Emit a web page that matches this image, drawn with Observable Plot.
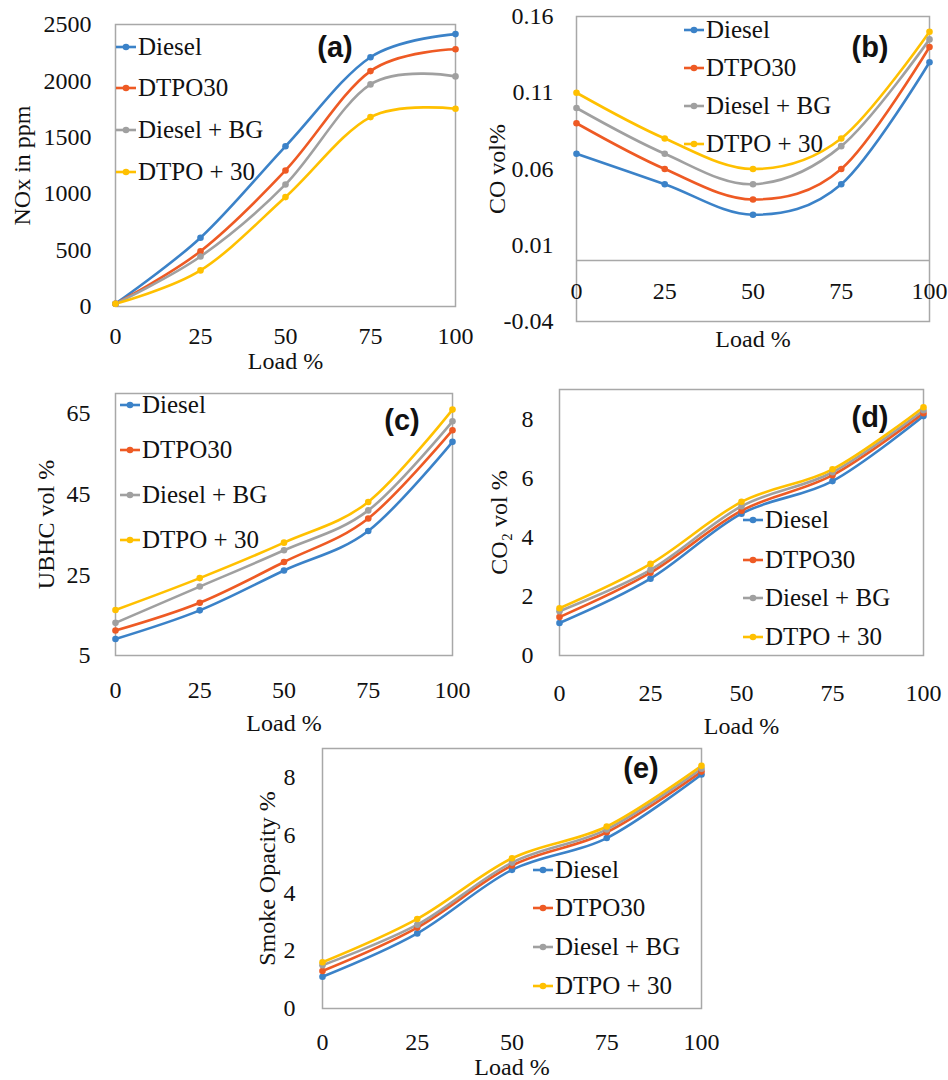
<!DOCTYPE html>
<html><head><meta charset="utf-8">
<script src="https://cdn.jsdelivr.net/npm/d3@7"></script>
<script src="https://cdn.jsdelivr.net/npm/@observablehq/plot@0.6"></script>
<style>
body{margin:0;background:#fff}
#wrap{position:relative;width:948px;height:1080px;overflow:hidden;font-family:"Liberation Serif","Times New Roman",serif;color:#111}
.panel{position:absolute}
.legend-row{position:absolute;display:flex;align-items:center;white-space:nowrap;font-family:"Liberation Serif","Times New Roman",serif;font-size:25px;line-height:28px;height:28px;color:#111}
.legend-row svg{margin-right:2px}
.tag{position:absolute;font-family:"Liberation Sans",Arial,sans-serif;font-weight:bold;font-size:29px;transform:translate(-50%,-50%);white-space:nowrap}
</style></head><body><div id="wrap"></div>
<script>
// ---- data ----
const loads = [0, 25, 50, 75, 100];
const seriesNames = ["Diesel", "DTPO30", "Diesel + BG", "DTPO + 30"];
const seriesColors = ["#3B82C8", "#EE5A24", "#A0A0A0", "#FFC000"];

const noxDiesel = [25, 610, 1420, 2210, 2415];
const noxDTPO30 = [25, 490, 1206, 2087, 2280];
const noxDieselBG = [25, 443, 1082, 1969, 2040];
const noxDTPOplus30 = [25, 320, 970, 1679, 1753];
const noxTicks = [0, 500, 1000, 1500, 2000, 2500];

const coDiesel = [0.07, 0.05, 0.03, 0.05, 0.13];
const coDTPO30 = [0.09, 0.06, 0.04, 0.06, 0.14];
const coDieselBG = [0.10, 0.07, 0.05, 0.075, 0.145];
const coDTPOplus30 = [0.11, 0.08, 0.06, 0.08, 0.15];
const coTicks = [-0.04, 0.01, 0.06, 0.11, 0.16];

const ubhcDiesel = [9.1, 16.2, 26.1, 35.9, 58.0];
const ubhcDTPO30 = [11.2, 18.1, 28.2, 39.0, 60.9];
const ubhcDieselBG = [13.1, 22.1, 31.1, 41.0, 63.1];
const ubhcDTPOplus30 = [16.3, 24.2, 33.0, 43.1, 66.0];
const ubhcTicks = [5, 25, 45, 65];

const co2Diesel = [1.1, 2.6, 4.8, 5.9, 8.1];
const co2DTPO30 = [1.3, 2.8, 4.9, 6.1, 8.2];
const co2DieselBG = [1.5, 2.9, 5.05, 6.2, 8.3];
const co2DTPOplus30 = [1.6, 3.1, 5.2, 6.3, 8.4];
const co2Ticks = [0, 2, 4, 6, 8];

const smokeDiesel = [1.1, 2.6, 4.8, 5.9, 8.1];
const smokeDTPO30 = [1.3, 2.8, 4.95, 6.1, 8.2];
const smokeDieselBG = [1.5, 2.9, 5.05, 6.2, 8.3];
const smokeDTPOplus30 = [1.6, 3.1, 5.2, 6.3, 8.4];
const smokeTicks = [0, 2, 4, 6, 8];

function tidy(arrays) {
  const rows = [];
  arrays.forEach((vals, i) => vals.forEach((v, j) => rows.push({series: seriesNames[i], load: loads[j], value: v})));
  return rows;
}

// ---- layout ----
const wrap = document.getElementById("wrap");
const FONT = '"Liberation Serif","Times New Roman",serif';

function panel(cfg) {
  const [fx0, fy0, fx1, fy1] = cfg.frame;
  const ml = cfg.ml, mr = cfg.mr, mt = 20, mb = cfg.mb ?? 90;
  const data = tidy(cfg.series);
  const marks = [
    Plot.frame({stroke: "#A8A8A8", strokeWidth: 1.5}),
    cfg.zeroLine ? Plot.ruleY([0], {stroke: "#A8A8A8", strokeWidth: 1.5}) : null,
    Plot.axisY({ticks: cfg.yTicks, tickSize: 0, tickPadding: cfg.yPad, tickFormat: cfg.yFormat,
      label: cfg.yLabel, labelAnchor: "center", labelOffset: cfg.yLabelOffset, labelArrow: "none"}),
    Plot.axisX({ticks: loads, tickSize: 0, tickPadding: cfg.xPad, tickFormat: d => String(d),
      label: "Load %", labelAnchor: "center", labelOffset: cfg.xLabelOffset, labelArrow: "none"}),
    Plot.line(data, {x: "load", y: "value", stroke: "series", z: "series", curve: "cardinal", tension: 0, strokeWidth: 2.6}),
    Plot.dot(data, {x: "load", y: "value", fill: "series", r: 3.3})
  ];
  const svg = Plot.plot({
    width: ml + (fx1 - fx0) + mr,
    height: mt + (fy1 - fy0) + mb,
    marginLeft: ml, marginRight: mr, marginTop: mt, marginBottom: mb,
    style: {fontFamily: FONT, fontSize: "24px", color: "#111", background: "transparent", overflow: "visible", maxWidth: "none"},
    x: {domain: [0, 100]},
    y: {domain: cfg.yDomain},
    color: {domain: seriesNames, range: seriesColors},
    marks
  });
  svg.classList.add("panel");
  svg.style.left = (fx0 - ml) + "px";
  svg.style.top = (fy0 - mt) + "px";
  wrap.appendChild(svg);

  // legend
  cfg.legendRows.forEach((cy, i) => {
    const row = document.createElement("div");
    row.className = "legend-row";
    row.style.left = cfg.legendX + "px";
    row.style.top = (cy - 14) + "px";
    const c = seriesColors[i];
    row.innerHTML = `<svg width="20" height="10"><line x1="0" y1="5" x2="20" y2="5" stroke="${c}" stroke-width="2.6"/><circle cx="10" cy="5" r="3.3" fill="${c}"/></svg><span>${seriesNames[i]}</span>`;
    wrap.appendChild(row);
  });
  const tag = document.createElement("div");
  tag.className = "tag";
  tag.textContent = cfg.tag;
  tag.style.left = cfg.tagPos[0] + "px";
  tag.style.top = cfg.tagPos[1] + "px";
  wrap.appendChild(tag);
}

panel({
  frame: [115, 24, 455, 306], ml: 115, mr: 25,
  series: [noxDiesel, noxDTPO30, noxDieselBG, noxDTPOplus30],
  yDomain: [0, 2500], yTicks: noxTicks, yFormat: d => String(d), yPad: 24,
  yLabel: "NOx in ppm", yLabelOffset: 103, xPad: 20, xLabelOffset: 62,
  legendX: 116, legendRows: [47, 88, 130, 172], tag: "(a)", tagPos: [335, 47]
});
panel({
  frame: [576, 16, 929, 321], ml: 106, mr: 19, zeroLine: true,
  series: [coDiesel, coDTPO30, coDieselBG, coDTPOplus30],
  yDomain: [-0.04, 0.16], yTicks: coTicks, yFormat: d => d.toFixed(2), yPad: 23,
  yLabel: "CO vol%", yLabelOffset: 89, xPad: -40, xLabelOffset: 25,
  legendX: 684, legendRows: [30, 68, 106, 144], tag: "(b)", tagPos: [870, 47]
});
panel({
  frame: [115, 393, 452, 655], ml: 115, mr: 25,
  series: [ubhcDiesel, ubhcDTPO30, ubhcDieselBG, ubhcDTPOplus30],
  yDomain: [5, 70], yTicks: ubhcTicks, yFormat: d => String(d), yPad: 25,
  yLabel: "UBHC vol %", yLabelOffset: 79, xPad: 25, xLabelOffset: 75,
  legendX: 120, legendRows: [405, 450, 495, 540], tag: "(c)", tagPos: [402, 420]
});
panel({
  frame: [559, 389, 923, 655], ml: 90, mr: 25,
  series: [co2Diesel, co2DTPO30, co2DieselBG, co2DTPOplus30],
  yDomain: [0, 9], yTicks: co2Ticks, yFormat: d => String(d), yPad: 26,
  yLabel: "CO₂ vol %", yLabelOffset: 70, xPad: 28, xLabelOffset: 78,
  legendX: 743, legendRows: [520, 560, 598, 637], tag: "(d)", tagPos: [870, 417]
});
panel({
  frame: [322, 748, 701, 1008], ml: 100, mr: 25, mb: 70,
  series: [smokeDiesel, smokeDTPO30, smokeDieselBG, smokeDTPOplus30],
  yDomain: [0, 9], yTicks: smokeTicks, yFormat: d => String(d), yPad: 27,
  yLabel: "Smoke Opacity %", yLabelOffset: 65, xPad: 24, xLabelOffset: 66,
  legendX: 533, legendRows: [870, 908, 947, 986], tag: "(e)", tagPos: [641, 768]
});
</script></body></html>
